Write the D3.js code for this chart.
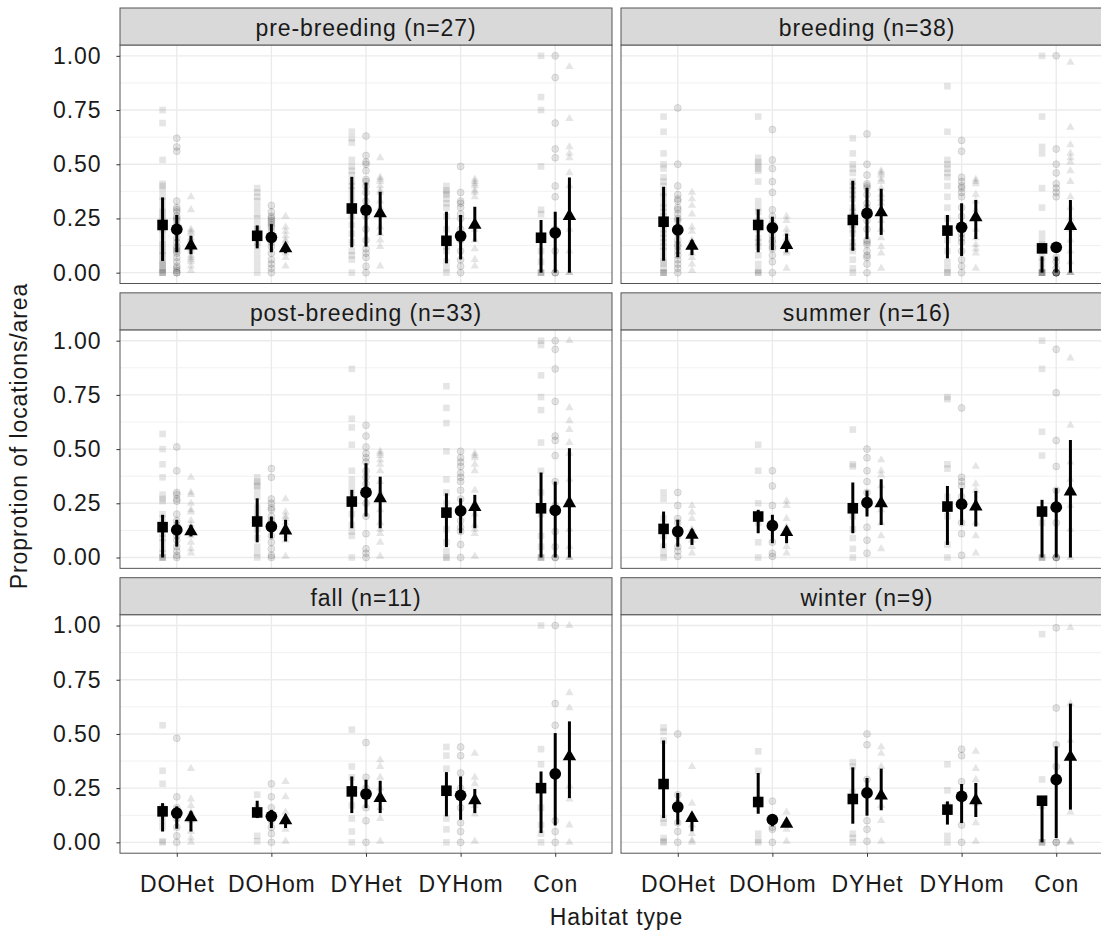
<!DOCTYPE html>
<html>
<head>
<meta charset="utf-8">
<script src="https://cdn.jsdelivr.net/npm/d3@7"></script>
<style>
  body { margin: 0; background: #fff; }
  svg { display: block; font-family: "Liberation Sans", Arial, sans-serif; }
</style>
</head>
<body>
<svg id="chart" width="1101" height="933"></svg>
<script>
const habitats = ['DOHet', 'DOHom', 'DYHet', 'DYHom', 'Con'];
const panelTitles = ['pre-breeding (n=27)', 'breeding (n=38)', 'post-breeding (n=33)',
                     'summer (n=16)', 'fall (n=11)', 'winter (n=9)'];
const markers = ['square', 'circle', 'triangle'];
const yTicks = [0, 0.25, 0.5, 0.75, 1];
const yMinor = [0.125, 0.375, 0.625, 0.875];

// [mean, lower, upper], habitat by habitat, square/circle/triangle
const preBreedingStats = [
  [0.22, 0.054, 0.347], [0.20, 0.094, 0.266], [0.125, 0.085, 0.17],
  [0.17, 0.112, 0.218], [0.163, 0.094, 0.224], [0.112, 0.089, 0.135],
  [0.296, 0.117, 0.442], [0.289, 0.12, 0.415], [0.273, 0.174, 0.373],
  [0.147, 0.043, 0.281], [0.169, 0.061, 0.266], [0.22, 0.143, 0.304],
  [0.161, 0, 0.243], [0.184, 0, 0.281], [0.261, 0, 0.439]
];
const breedingStats = [
  [0.235, 0.055, 0.396], [0.197, 0.071, 0.255], [0.123, 0.081, 0.15],
  [0.22, 0.094, 0.292], [0.207, 0.104, 0.258], [0.127, 0.094, 0.18],
  [0.243, 0.101, 0.424], [0.273, 0.155, 0.392], [0.278, 0.174, 0.387],
  [0.194, 0.066, 0.266], [0.209, 0.077, 0.32], [0.255, 0.155, 0.335],
  [0.112, 0, 0.075], [0.117, 0, 0.074], [0.215, 0, 0.335]
];
const postBreedingStats = [
  [0.14, 0, 0.197], [0.127, 0.05, 0.174], [0.12, 0.097, 0.15],
  [0.166, 0.07, 0.273], [0.143, 0.089, 0.189], [0.124, 0.074, 0.174],
  [0.258, 0.135, 0.312], [0.30, 0.189, 0.435], [0.273, 0.135, 0.373],
  [0.207, 0.048, 0.296], [0.215, 0.112, 0.273], [0.232, 0.135, 0.289],
  [0.227, 0, 0.392], [0.217, 0, 0.35], [0.25, 0, 0.504]
];
const summerStats = [
  [0.132, 0.043, 0.212], [0.12, 0.05, 0.174], [0.104, 0.058, 0.13],
  [0.189, 0.112, 0.22], [0.147, 0.066, 0.197], [0.117, 0.066, 0.14],
  [0.227, 0.112, 0.346], [0.253, 0.189, 0.309], [0.25, 0.15, 0.361],
  [0.235, 0.058, 0.33], [0.246, 0.15, 0.32], [0.235, 0.143, 0.307],
  [0.212, 0, 0.266], [0.232, 0, 0.32], [0.304, 0, 0.542]
];
const fallStats = [
  [0.143, 0.05, 0.181], [0.135, 0.063, 0.166], [0.115, 0.05, 0.143],
  [0.138, 0.112, 0.192], [0.12, 0.066, 0.15], [0.101, 0.066, 0.128],
  [0.235, 0.135, 0.304], [0.223, 0.158, 0.289], [0.204, 0.135, 0.284],
  [0.238, 0.12, 0.324], [0.217, 0.104, 0.304], [0.194, 0.135, 0.246],
  [0.25, 0.043, 0.327], [0.316, 0.078, 0.504], [0.396, 0.204, 0.558]
];
const winterStats = [
  [0.269, 0.112, 0.47], [0.163, 0.082, 0.228], [0.112, 0.051, 0.135],
  [0.186, 0.132, 0.32], [0.105, 0.074, 0.128], [0.085, 0.075, 0.095],
  [0.20, 0.086, 0.346], [0.228, 0.123, 0.297], [0.215, 0.148, 0.34],
  [0.151, 0.082, 0.189], [0.212, 0.089, 0.269], [0.194, 0.117, 0.274],
  [0.192, 0, 0.192], [0.289, 0.02, 0.443], [0.394, 0.151, 0.64]
];

// individual proportions, same order as the stats
const preBreedingRaw = [
  [0.75, 0.69, 0.52, 0.41, 0.40, 0.38, 0.35, 0.33, 0.30, 0.28, 0.27, 0.25, 0.24, 0.21, 0.20, 0.18, 0.15, 0.13, 0.12, 0.10, 0.09, 0.08, 0.06, 0.05, 0.04, 0.03, 0.02, 0.01, 0, 0, 0],
  [0.62, 0.58, 0.56, 0.33, 0.30, 0.29, 0.28, 0.26, 0.25, 0.24, 0.22, 0.20, 0.19, 0.16, 0.14, 0.12, 0.11, 0.10, 0.09, 0.07, 0.05, 0.03, 0.02, 0.01, 0, 0],
  [0.35, 0.29, 0.20, 0.19, 0.18, 0.16, 0.15, 0.14, 0.12, 0.11, 0.10, 0.08, 0.07, 0.06, 0.05, 0.03, 0.01],
  [0.39, 0.37, 0.35, 0.33, 0.30, 0.27, 0.25, 0.22, 0.20, 0.19, 0.16, 0.14, 0.12, 0.09, 0.06, 0.03, 0],
  [0.31, 0.28, 0.26, 0.25, 0.24, 0.23, 0.22, 0.21, 0.19, 0.17, 0.15, 0.14, 0.12, 0.09, 0.06, 0.04, 0.02, 0],
  [0.26, 0.21, 0.19, 0.17, 0.15, 0.14, 0.12, 0.11, 0.09, 0.07, 0.03],
  [0.65, 0.62, 0.60, 0.52, 0.49, 0.47, 0.45, 0.42, 0.40, 0.38, 0.35, 0.32, 0.29, 0.26, 0.22, 0.18, 0.14, 0.10, 0.08, 0.06, 0],
  [0.63, 0.54, 0.51, 0.50, 0.47, 0.43, 0.42, 0.40, 0.37, 0.33, 0.30, 0.26, 0.20, 0.15, 0.11, 0.09, 0.07, 0.03, 0],
  [0.53, 0.44, 0.43, 0.42, 0.40, 0.38, 0.37, 0.33, 0.30, 0.27, 0.21, 0.18, 0.15, 0.12, 0.03],
  [0.40, 0.38, 0.37, 0.36, 0.34, 0.32, 0.30, 0.26, 0.20, 0.15, 0.12, 0.10, 0.05, 0.02, 0],
  [0.49, 0.37, 0.33, 0.32, 0.30, 0.27, 0.25, 0.20, 0.15, 0.10, 0.06, 0.03, 0],
  [0.43, 0.42, 0.41, 0.40, 0.38, 0.37, 0.35, 0.20, 0.15, 0.11, 0.06, 0.03],
  [1.0, 0.81, 0.75, 0.49, 0.29, 0.27, 0.10, 0.05, 0, 0, 0],
  [1.0, 0.90, 0.69, 0.57, 0.53, 0.40, 0.35, 0.20, 0.10, 0, 0],
  [0.95, 0.71, 0.58, 0.55, 0.53, 0.46, 0.40, 0.20, 0.10, 0, 0]
];
const breedingRaw = [
  [0.72, 0.65, 0.55, 0.50, 0.48, 0.44, 0.42, 0.40, 0.37, 0.35, 0.32, 0.30, 0.28, 0.26, 0.24, 0.22, 0.20, 0.18, 0.16, 0.14, 0.12, 0.10, 0.07, 0.05, 0.04, 0.02, 0, 0, 0],
  [0.76, 0.50, 0.40, 0.36, 0.34, 0.33, 0.30, 0.29, 0.27, 0.25, 0.24, 0.21, 0.19, 0.18, 0.15, 0.13, 0.12, 0.10, 0.08, 0.06, 0.04, 0.02, 0],
  [0.37, 0.34, 0.31, 0.27, 0.21, 0.19, 0.15, 0.12, 0.09, 0.07, 0.04, 0.01],
  [0.72, 0.53, 0.51, 0.50, 0.48, 0.47, 0.42, 0.33, 0.30, 0.28, 0.24, 0.22, 0.20, 0.16, 0.14, 0.12, 0.08, 0.04, 0.01, 0, 0],
  [0.66, 0.52, 0.48, 0.42, 0.37, 0.29, 0.26, 0.23, 0.21, 0.20, 0.17, 0.15, 0.14, 0.12, 0.11, 0.08, 0.05, 0],
  [0.26, 0.24, 0.20, 0.18, 0.16, 0.15, 0.13, 0.12, 0.10, 0.09, 0.02],
  [0.62, 0.55, 0.50, 0.48, 0.46, 0.42, 0.40, 0.38, 0.36, 0.34, 0.30, 0.28, 0.26, 0.22, 0.20, 0.18, 0.14, 0.12, 0.10, 0.06, 0.02, 0],
  [0.64, 0.50, 0.45, 0.41, 0.40, 0.39, 0.36, 0.32, 0.30, 0.28, 0.24, 0.20, 0.15, 0.14, 0.13, 0.10, 0.08, 0.07, 0.04, 0],
  [0.47, 0.46, 0.45, 0.43, 0.42, 0.39, 0.36, 0.34, 0.32, 0.28, 0.24, 0.20, 0.16, 0.12, 0.09, 0.02],
  [0.86, 0.65, 0.52, 0.50, 0.48, 0.46, 0.44, 0.40, 0.35, 0.30, 0.25, 0.20, 0.15, 0.10, 0.05, 0.02, 0, 0],
  [0.61, 0.56, 0.44, 0.42, 0.40, 0.39, 0.37, 0.35, 0.30, 0.26, 0.22, 0.18, 0.16, 0.14, 0.10, 0.06, 0.03, 0],
  [0.43, 0.42, 0.41, 0.36, 0.33, 0.29, 0.25, 0.20, 0.16, 0.13, 0.11, 0.09, 0.02],
  [1.0, 0.72, 0.58, 0.55, 0.39, 0.30, 0.18, 0.15, 0.13, 0.10, 0.07, 0.05, 0.02, 0, 0, 0, 0, 0],
  [1.0, 0.57, 0.50, 0.46, 0.41, 0.39, 0.37, 0.35, 0.07, 0.05, 0.02, 0, 0, 0, 0, 0, 0],
  [0.97, 0.67, 0.59, 0.55, 0.53, 0.51, 0.47, 0.42, 0.35, 0.30, 0.25, 0.20, 0.15, 0.10, 0.05, 0, 0, 0]
];
const postBreedingRaw = [
  [0.57, 0.50, 0.43, 0.37, 0.29, 0.27, 0.26, 0.20, 0.18, 0.15, 0.11, 0.09, 0.07, 0.04, 0.02, 0, 0, 0],
  [0.51, 0.40, 0.30, 0.29, 0.27, 0.26, 0.20, 0.17, 0.15, 0.12, 0.10, 0.08, 0.05, 0.03, 0.01, 0],
  [0.37, 0.30, 0.29, 0.25, 0.22, 0.21, 0.17, 0.15, 0.13, 0.10, 0.07, 0.04, 0.02],
  [0.37, 0.35, 0.34, 0.33, 0.31, 0.28, 0.23, 0.20, 0.18, 0.13, 0.09, 0.05, 0.02, 0],
  [0.41, 0.37, 0.27, 0.25, 0.23, 0.22, 0.19, 0.17, 0.16, 0.13, 0.10, 0.07, 0.04, 0.01, 0],
  [0.27, 0.21, 0.19, 0.18, 0.16, 0.14, 0.12, 0.10, 0.08, 0.005],
  [0.87, 0.64, 0.60, 0.52, 0.40, 0.36, 0.33, 0.30, 0.25, 0.20, 0.15, 0.12, 0.10, 0],
  [0.61, 0.56, 0.51, 0.48, 0.46, 0.44, 0.40, 0.37, 0.34, 0.30, 0.25, 0.19, 0.11, 0.04, 0.02, 0],
  [0.49, 0.48, 0.47, 0.45, 0.43, 0.40, 0.35, 0.30, 0.22, 0.16, 0.13, 0.11, 0.07, 0.005],
  [0.79, 0.69, 0.62, 0.49, 0.36, 0.30, 0.25, 0.20, 0.13, 0.07, 0.03, 0, 0],
  [0.49, 0.46, 0.44, 0.42, 0.39, 0.37, 0.35, 0.31, 0.27, 0.22, 0.17, 0.14, 0.12, 0.06, 0],
  [0.48, 0.47, 0.46, 0.43, 0.40, 0.31, 0.25, 0.20, 0.15, 0.13, 0.11, 0.005],
  [1.0, 0.98, 0.84, 0.74, 0.68, 0.53, 0.40, 0.30, 0.20, 0.10, 0.05, 0, 0, 0],
  [1.0, 0.96, 0.87, 0.72, 0.56, 0.54, 0.47, 0.35, 0.24, 0.12, 0.05, 0, 0],
  [1.0, 0.69, 0.63, 0.59, 0.53, 0.48, 0.36, 0.27, 0.13, 0.05, 0, 0]
];
const summerRaw = [
  [0.30, 0.27, 0.18, 0.14, 0.10, 0.05, 0.02, 0],
  [0.30, 0.24, 0.18, 0.16, 0.10, 0.05, 0.03, 0.005],
  [0.24, 0.21, 0.18, 0.13, 0.08, 0.05, 0.02],
  [0.52, 0.40, 0.25, 0.19, 0.16, 0.07, 0],
  [0.40, 0.33, 0.24, 0.16, 0.07, 0.02, 0.005],
  [0.26, 0.24, 0.18, 0.14, 0.05, 0.02],
  [0.59, 0.43, 0.42, 0.24, 0.19, 0.13, 0.09, 0.04, 0],
  [0.50, 0.46, 0.40, 0.35, 0.30, 0.24, 0.14, 0.08, 0.02],
  [0.45, 0.40, 0.38, 0.33, 0.22, 0.16, 0.10, 0.04],
  [0.74, 0.73, 0.43, 0.41, 0.28, 0.19, 0.06, 0],
  [0.69, 0.37, 0.35, 0.33, 0.28, 0.16, 0.11, 0.01],
  [0.42, 0.34, 0.31, 0.25, 0.16, 0.10, 0.02],
  [1.0, 0.87, 0.58, 0.47, 0.16, 0, 0, 0],
  [0.96, 0.76, 0.54, 0.42, 0.31, 0.16, 0, 0, 0],
  [0.92, 0.61, 0.44, 0.36, 0.24, 0.13, 0]
];
const fallRaw = [
  [0.54, 0.33, 0.27, 0.16, 0.13, 0.10, 0.07, 0.005, 0],
  [0.48, 0.21, 0.16, 0.11, 0.07, 0.03, 0],
  [0.34, 0.20, 0.17, 0.14, 0.10, 0.05, 0.02, 0],
  [0.22, 0.16, 0.13, 0.03, 0.005],
  [0.27, 0.21, 0.16, 0.10, 0.07, 0.04, 0],
  [0.28, 0.21, 0.14, 0.10, 0.06, 0.005],
  [0.52, 0.35, 0.30, 0.24, 0.17, 0.11, 0.05, 0],
  [0.46, 0.30, 0.25, 0.16, 0.10, 0],
  [0.38, 0.35, 0.30, 0.25, 0.16, 0.11, 0.005],
  [0.44, 0.40, 0.34, 0.25, 0.11, 0.06, 0],
  [0.44, 0.40, 0.32, 0.25, 0.16, 0.09, 0.05, 0],
  [0.41, 0.30, 0.27, 0.17, 0.13, 0.005],
  [1.0, 0.43, 0.36, 0.16, 0.08, 0.04, 0],
  [1.0, 0.64, 0.54, 0.10, 0.05, 0],
  [1.0, 0.69, 0.62, 0.26, 0.20, 0.08, 0]
];
const winterRaw = [
  [0.53, 0.51, 0.47, 0.11, 0.09, 0.02, 0.005, 0],
  [0.50, 0.22, 0.18, 0.09, 0.05, 0],
  [0.35, 0.18, 0.08, 0.04, 0.01, 0],
  [0.42, 0.33, 0.20, 0.04, 0.01, 0],
  [0.19, 0.11, 0.07, 0.06, 0],
  [0.14, 0.10, 0.06, 0.005],
  [0.37, 0.35, 0.23, 0.04, 0.02, 0],
  [0.50, 0.45, 0.29, 0.10, 0.06, 0.005],
  [0.44, 0.41, 0.35, 0.17, 0.10, 0.005],
  [0.36, 0.24, 0.17, 0.03, 0],
  [0.43, 0.40, 0.28, 0.08, 0],
  [0.42, 0.34, 0.29, 0.18, 0.09, 0.005],
  [0.96, 0.29, 0.17, 0, 0, 0],
  [0.99, 0.62, 0.45, 0.35, 0, 0],
  [0.99, 0.64, 0.47, 0.14, 0.005, 0]
];

const statsByPanel = [preBreedingStats, breedingStats, postBreedingStats, summerStats, fallStats, winterStats];
const rawByPanel = [preBreedingRaw, breedingRaw, postBreedingRaw, summerRaw, fallRaw, winterRaw];

// layout
const COL_X = [120, 621];
const PANEL_W = 492;
const ROW_Y = [8, 292.85, 577.7];
const STRIP_H = 37;
const PANEL_H = 238.5;
const FONT = 23;
const LS = 0.9;

const svg = d3.select('#chart');

const symArea = {
  raw:  { square: 44, triangle: 30 },
  mean: { square: 112, circle: 108, triangle: 78 }
};
const symType = { square: d3.symbolSquare, circle: d3.symbolCircle, triangle: d3.symbolTriangle };

panelTitles.forEach((title, p) => {
  const col = p % 2, row = Math.floor(p / 2);
  const x0 = COL_X[col];
  const stripTop = ROW_Y[row];
  const top = stripTop + STRIP_H;
  const bottom = top + PANEL_H;

  const x = d3.scalePoint().domain(habitats).range([x0, x0 + PANEL_W]).padding(0.6);
  const y = d3.scaleLinear().domain([-0.05, 1.05]).range([bottom, top]);
  const dodge = x.step() * 0.15;

  const g = svg.append('g');

  // grid
  g.selectAll('.minor').data(yMinor).join('line')
      .attr('x1', x0).attr('x2', x0 + PANEL_W)
      .attr('y1', d => y(d)).attr('y2', d => y(d))
      .attr('stroke', '#ebebeb').attr('stroke-width', 0.7);
  g.selectAll('.major').data(yTicks).join('line')
      .attr('x1', x0).attr('x2', x0 + PANEL_W)
      .attr('y1', d => y(d)).attr('y2', d => y(d))
      .attr('stroke', '#ebebeb').attr('stroke-width', 1.4);
  g.selectAll('.vgrid').data(habitats).join('line')
      .attr('x1', d => x(d)).attr('x2', d => x(d))
      .attr('y1', top).attr('y2', bottom)
      .attr('stroke', '#ebebeb').attr('stroke-width', 1.4);

  const stats = statsByPanel[p];
  const raw = rawByPanel[p];

  const groups = [];
  habitats.forEach((h, hi) => {
    markers.forEach((m, mi) => {
      const k = hi * 3 + mi;
      groups.push({ h, m, cx: x(h) + (mi - 1) * dodge, stat: stats[k], raw: raw[k] });
    });
  });

  // individual points
  groups.forEach(gr => {
    gr.raw.forEach(v => {
      if (gr.m === 'circle') {
        g.append('circle')
            .attr('cx', gr.cx).attr('cy', y(v)).attr('r', 3.5)
            .attr('fill', 'rgba(0,0,0,0.1)')
            .attr('stroke', 'rgba(0,0,0,0.1)').attr('stroke-width', 1);
      } else {
        g.append('path')
            .attr('d', d3.symbol().type(symType[gr.m]).size(symArea.raw[gr.m])())
            .attr('transform', `translate(${gr.cx},${y(v)})`)
            .attr('fill', 'rgba(0,0,0,0.1)');
      }
    });
  });

  // error bars
  g.selectAll('.bar').data(groups).join('line')
      .attr('x1', d => d.cx).attr('x2', d => d.cx)
      .attr('y1', d => y(d.stat[1])).attr('y2', d => y(d.stat[2]))
      .attr('stroke', '#000').attr('stroke-width', 3);

  // means
  g.selectAll('.mean').data(groups).join('path')
      .attr('d', d => d3.symbol().type(symType[d.m]).size(symArea.mean[d.m])())
      .attr('transform', d => `translate(${d.cx},${y(d.stat[0])})`)
      .attr('fill', '#000');

  // panel border
  g.append('rect')
      .attr('x', x0).attr('y', top)
      .attr('width', PANEL_W).attr('height', PANEL_H)
      .attr('fill', 'none').attr('stroke', '#555').attr('stroke-width', 1);

  // strip
  g.append('rect')
      .attr('x', x0).attr('y', stripTop)
      .attr('width', PANEL_W).attr('height', STRIP_H)
      .attr('fill', '#d9d9d9').attr('stroke', '#555').attr('stroke-width', 1);
  g.append('text')
      .attr('x', x0 + PANEL_W / 2).attr('y', stripTop + 28)
      .attr('text-anchor', 'middle')
      .attr('font-size', FONT).attr('letter-spacing', LS)
      .attr('fill', '#1a1a1a')
      .text(title);

  // axes
  if (col === 0) {
    const ay = g.append('g')
        .attr('transform', `translate(${x0},0)`)
        .call(d3.axisLeft(y).tickValues(yTicks).tickFormat(d3.format('.2f')).tickSize(3.6).tickPadding(15));
    ay.select('.domain').remove();
    ay.selectAll('line').attr('stroke', '#333');
    ay.selectAll('text').attr('font-size', FONT).attr('letter-spacing', LS)
        .attr('fill', '#1a1a1a').attr('font-family', null);
  }
  if (row === 2) {
    const ax = g.append('g')
        .attr('transform', `translate(0,${bottom})`)
        .call(d3.axisBottom(x).tickSize(3.6).tickPadding(18.5));
    ax.select('.domain').remove();
    ax.selectAll('line').attr('stroke', '#333');
    ax.selectAll('text').attr('font-size', FONT).attr('letter-spacing', LS)
        .attr('fill', '#1a1a1a').attr('font-family', null);
  }
});

// axis titles
svg.append('text')
    .attr('x', (COL_X[0] + COL_X[1] + PANEL_W) / 2).attr('y', 925)
    .attr('text-anchor', 'middle')
    .attr('font-size', FONT).attr('letter-spacing', LS).attr('fill', '#1a1a1a')
    .text('Habitat type');

svg.append('text')
    .attr('transform', 'translate(27,436) rotate(-90)')
    .attr('text-anchor', 'middle')
    .attr('font-size', FONT).attr('letter-spacing', LS).attr('fill', '#1a1a1a')
    .text('Proprotion of locations/area');
</script>
</body>
</html>
